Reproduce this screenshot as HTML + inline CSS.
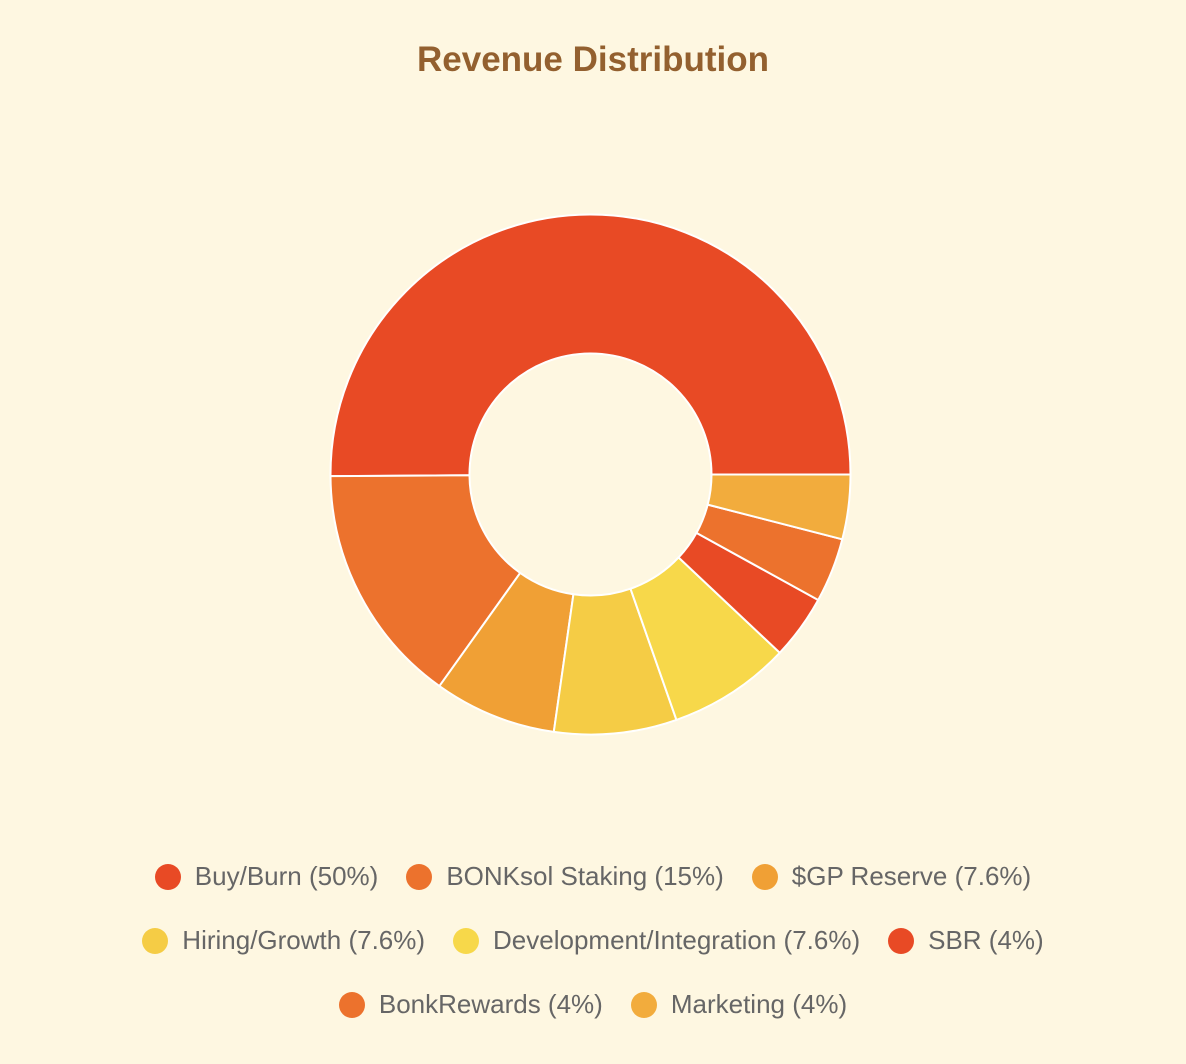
<!DOCTYPE html>
<html><head><meta charset="utf-8">
<style>
html,body{margin:0;padding:0;background:#FEF7E1;}
body{width:1186px;height:1064px;position:relative;overflow:hidden;font-family:"Liberation Sans",sans-serif;}
#title{position:absolute;top:40px;left:0;width:1186px;text-align:center;font-size:35px;font-weight:bold;color:#93602F;}
svg{position:absolute;left:0;top:0;}
.row{position:absolute;left:0;width:1186px;display:flex;justify-content:center;gap:28px;font-size:26px;color:#666;}
.item{display:flex;align-items:center;gap:14px;}
.dot{width:26px;height:26px;border-radius:50%;display:inline-block;}
</style></head><body>
<div id="title">Revenue Distribution</div>
<svg id="chart" width="1186" height="1064"></svg>
<div id="legend"></div>
<script>
const labels=["Buy/Burn (50%)","BONKsol Staking (15%)","$GP Reserve (7.6%)","Hiring/Growth (7.6%)","Development/Integration (7.6%)","SBR (4%)","BonkRewards (4%)","Marketing (4%)"];
const values=[50,15,7.6,7.6,7.6,4,4,4];
const colors=["#E84A25","#EC722D","#F0A035","#F5CC45","#F7D84A","#E84A25","#EC722D","#F2AC3D"];
const rows=[[0,1,2],[3,4,5],[6,7]];
const cx=590.5,cy=474.5,R=260,r=121;
const svg=document.getElementById('chart');
const total=values.reduce((a,b)=>a+b,0);
let a=0;
function pt(rad,ang){return [cx+rad*Math.cos(ang),cy+rad*Math.sin(ang)];}
values.forEach((v,i)=>{
  const a1=a-v/total*2*Math.PI;
  const p1=pt(R,a),p2=pt(R,a1),p3=pt(r,a1),p4=pt(r,a);
  const large=(a-a1)>Math.PI?1:0;
  const d=`M${p1[0]},${p1[1]} A${R},${R} 0 ${large} 0 ${p2[0]},${p2[1]} L${p3[0]},${p3[1]} A${r},${r} 0 ${large} 1 ${p4[0]},${p4[1]} Z`;
  const path=document.createElementNS('http://www.w3.org/2000/svg','path');
  path.setAttribute('d',d);
  path.setAttribute('fill',colors[i]);
  path.setAttribute('stroke','#fff');
  path.setAttribute('stroke-width','2');
  
  
  svg.appendChild(path);
  a=a1;
});
const lg=document.getElementById('legend');
const tops=[861,925,989];
rows.forEach((row,ri)=>{
  const div=document.createElement('div');
  div.className='row';
  div.style.top=tops[ri]+'px';
  
  
  row.forEach(i=>{
    const it=document.createElement('div');
    it.className='item';
    
    
    const d=document.createElement('span');
    d.className='dot';d.style.background=colors[i];
    const t=document.createElement('span');
    t.textContent=labels[i];
    it.appendChild(d);it.appendChild(t);div.appendChild(it);
  });
  lg.appendChild(div);
});
</script>
</body></html>
